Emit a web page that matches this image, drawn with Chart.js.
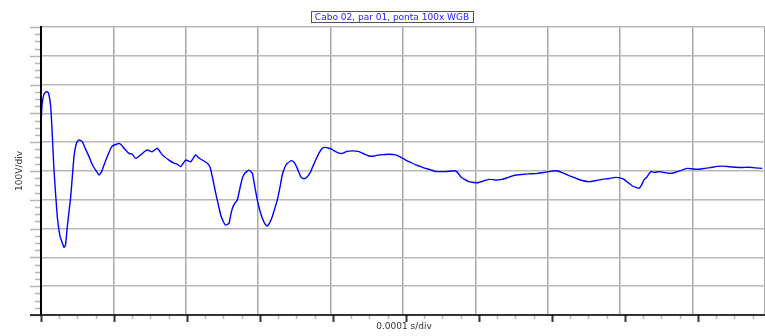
<!DOCTYPE html>
<html>
<head>
<meta charset="utf-8">
<script src="https://cdn.jsdelivr.net/npm/chart.js@4.4.1/dist/chart.umd.min.js"></script>
<style>
  html, body { margin: 0; padding: 0; background: #fff; overflow: hidden; }
  #wrap { width: 765px; height: 336px; }
</style>
</head>
<body>
<div id="wrap"><canvas id="scope" width="765" height="336"></canvas></div>
<script>
// time in microseconds (0.0001 s/div = 100 us/div), voltage in V (100 V/div)
const timeUs = [
  0, 1.4, 4.1, 7.5, 10.3, 13.3, 15.8, 17.8, 22.3, 26.0, 29.2, 31.5, 33.6, 36.0, 40.7, 45.2,
  48.6, 52.1, 56.6, 61.0, 65.8, 70.5, 74.9, 79.5, 82.9, 86.3, 90.8, 94.5, 97.7, 102.7, 106.8,
  110.3, 113.7, 120.5, 124.7, 129.7, 136.6, 141.1, 145.6, 152.5, 159.3, 166.2, 175.3, 182.2,
  186.3, 191.4, 198.2, 205.1, 211.9, 216.4, 221.0, 227.8, 231.5, 234.7, 238.4, 241.5, 246.2,
  250.0, 253.0, 257.5, 259.6, 262.1, 265.8, 268.9, 272.6, 275.8, 279.5, 284.9, 289.5, 292.5,
  296.3, 300.0, 303.2, 306.8, 310.0, 313.0, 316.8, 320.5, 323.7, 327.4, 330.5, 334.2, 337.4,
  343.4, 347.3, 351.1, 355.8, 358.9, 362.6, 365.8, 369.5, 372.6, 376.3, 380.8, 385.3, 389.7,
  394.5, 398.6, 403.7, 408.2, 412.7, 419.2, 426.4, 431.5, 435.6, 442.5, 449.3, 456.2, 463.0,
  469.9, 476.7, 485.9, 491.8, 499.6, 505.5, 513.3, 519.2, 527.0, 532.9, 540.7, 546.6, 554.4,
  565.8, 569.9, 575.0, 580.8, 586.3, 597.7, 605.5, 613.7, 621.9, 631.9, 641.1, 650.3, 658.9,
  668.5, 678.1, 686.7, 695.9, 702.7, 708.2, 714.1, 723.3, 732.5, 741.1, 750.7, 760.3, 768.9,
  778.1, 787.3, 793.2, 798.6, 804.1, 810.0, 815.1, 819.2, 822.6, 826.0, 830.1, 835.2, 841.1,
  846.6, 853.4, 860.3, 865.8, 871.6, 878.1, 885.3, 893.2, 901.4, 909.6, 919.6, 926.0, 933.3,
  942.5, 951.6, 960.3, 969.9, 978.1, 988.1
];
const voltage = [
  153, 229, 267, 276, 271, 223, 108, 3, -159, -226, -250, -265, -257, -193, -89, 50,
  97, 108, 102, 76, 50, 21, 3, -14, -3, 21, 50, 73, 87, 92, 96,
  90, 79, 61, 59, 44, 56, 66, 73, 67, 79, 56, 38, 27,
  24, 15, 38, 32, 56, 45, 38, 27, 14, -20, -66, -101, -153,
  -177, -188, -182, -156, -130, -111, -101, -59, -25, -7, 3, -8, -49,
  -101, -139, -164, -184, -191, -181, -159, -128, -101, -56, -14, 14, 27,
  36, 28, 9, -20, -26, -25, -17, -2, 17, 38, 62, 79, 82,
  79, 75, 67, 62, 61, 68, 70, 69, 67, 59, 52, 52, 56,
  57, 58, 56, 49, 38, 31, 21, 16, 9, 5, -2, -2, -2,
  1, -3, -20, -30, -37, -41, -35, -29, -31, -29, -21, -14, -12,
  -10, -9, -6, -2, 1, 0, -6, -16, -25, -33, -37, -33, -29,
  -26, -22, -24, -29, -40, -52, -57, -60, -49, -31, -21, -2, -5,
  -2, -5, -8, -7, -2, 3, 9, 7, 6, 9, 13, 16, 17,
  15, 13, 12, 13, 11, 9
];
const traceLabel = 'Cabo 02, par 01, ponta 100x WGB';
const xAxisLabel = '0.0001 s/div';
const yAxisLabel = '100V/div';

const points = timeUs.map((t, i) => ({ x: t, y: voltage[i] }));

// axis lines, outer tick marks, labels and the legend box
const scopeFrame = {
  id: 'scopeFrame',
  afterDraw(chart) {
    const { ctx, chartArea: { left, top, right, bottom }, scales: { x, y } } = chart;
    ctx.save();

    // y ticks (outside, left)
    ctx.strokeStyle = '#b4b4b4';
    ctx.lineWidth = 1.5;
    for (let v = -500; v <= 500; v += 25) {
      const py = Math.round(y.getPixelForValue(v)) + 0.5;
      const len = v % 100 === 0 ? 11 : 6;
      ctx.beginPath();
      ctx.moveTo(left - len, py);
      ctx.lineTo(left, py);
      ctx.stroke();
    }

    // x ticks (outside, bottom)
    for (let t = 0; t <= 990; t += 25) {
      const px = Math.round(x.getPixelForValue(t)) + 0.5;
      const major = t % 100 === 0;
      ctx.strokeStyle = major ? '#333' : '#b4b4b4';
      ctx.lineWidth = major ? 2 : 1.5;
      ctx.beginPath();
      ctx.moveTo(px, bottom);
      ctx.lineTo(px, bottom + (major ? 7 : 4));
      ctx.stroke();
    }

    // axis lines
    ctx.strokeStyle = '#000';
    ctx.lineWidth = 2;
    ctx.beginPath();
    ctx.moveTo(left, top - 1);
    ctx.lineTo(left, bottom);
    ctx.stroke();
    ctx.lineWidth = 1.5;
    ctx.beginPath();
    ctx.moveTo(30, bottom);
    ctx.lineTo(right, bottom);
    ctx.stroke();

    // axis titles
    ctx.fillStyle = '#333';
    ctx.font = '9px "DejaVu Sans", sans-serif';
    ctx.textAlign = 'center';
    ctx.textBaseline = 'middle';
    ctx.fillText(xAxisLabel, 404, 327);
    ctx.save();
    ctx.translate(20, 171);
    ctx.rotate(-Math.PI / 2);
    ctx.fillText(yAxisLabel, 0, 0);
    ctx.restore();

    // legend box
    const w = Math.round(ctx.measureText(traceLabel).width + 8);
    const bx = Math.round(392 - w / 2) + 0.5;
    ctx.strokeStyle = '#555';
    ctx.lineWidth = 1;
    ctx.strokeRect(bx, 11.5, w, 11);
    ctx.fillStyle = '#2020ff';
    ctx.fillText(traceLabel, 392, 17.5);

    ctx.restore();
  }
};

new Chart(document.getElementById('scope').getContext('2d'), {
  type: 'line',
  data: {
    datasets: [{
      label: traceLabel,
      data: points,
      borderColor: '#0000ff',
      borderWidth: 1.4,
      pointRadius: 0,
      tension: 0.15
    }]
  },
  options: {
    responsive: false,
    animation: false,
    layout: { padding: { left: 41, top: 27, right: 0, bottom: 21 } },
    plugins: {
      legend: { display: false },
      tooltip: { enabled: false }
    },
    scales: {
      x: {
        type: 'linear',
        min: 0,
        max: 991.8,
        ticks: { display: false, stepSize: 100, includeBounds: false },
        grid: { color: '#a8a8a8', lineWidth: 1.5, drawTicks: false },
        border: { display: false }
      },
      y: {
        min: -500,
        max: 500,
        ticks: { display: false, stepSize: 100 },
        grid: { color: '#b8b8b8', lineWidth: 1.5, drawTicks: false },
        border: { display: false }
      }
    }
  },
  plugins: [scopeFrame]
});
</script>
</body>
</html>
